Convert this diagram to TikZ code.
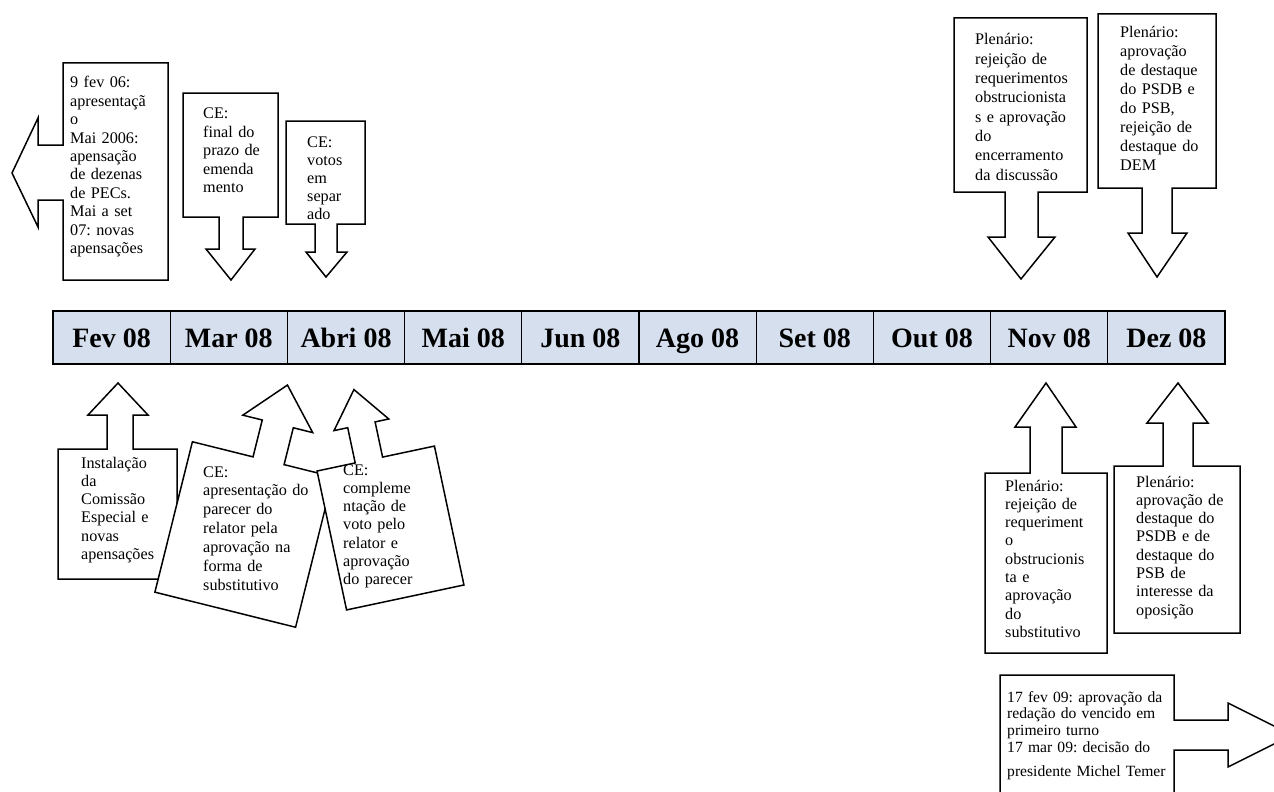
\documentclass[tikz,border=0pt]{standalone}
\usepackage{fontspec}
\setmainfont{Liberation Serif}
\frenchspacing
\definecolor{barfill}{RGB}{213,223,238}
\begin{document}
\begin{tikzpicture}[x=1pt,y=-1pt,
  callout/.style={draw=black, fill=white, line width=1.5pt, line join=miter},
  lbl/.style={anchor=base west, inner sep=0pt, text width=220pt, align=left,
              font=\fontsize{16.2}{#1}\selectfont\frenchspacing},
  cell/.style={draw=black, line width=1.2pt, fill=barfill, minimum width=117.2pt,
               minimum height=53pt, inner sep=0pt, text height=19.5pt, text depth=0pt,
               font=\fontsize{28}{30}\selectfont\bfseries},
]
\useasboundingbox (0,0) rectangle (1274,792);

% ---------- timeline bar ----------
\foreach \m [count=\i from 0] in {Fev 08,Mar 08,Abri 08,Mai 08,Jun 08,Ago 08,Set 08,Out 08,Nov 08,Dez 08}
  \node[cell] (m\i) at ({53+117.2*\i+58.6},337.5) {\m};

% ---------- top callouts ----------
\draw[callout] (63,63) -- (168,63) -- (168,280) -- (63,280) -- (63,200) -- (38,200) -- (38,227)
  -- (12,173) -- (38,118) -- (38,145) -- (63,145) -- cycle;
\node[lbl=18.4] (tl) at (70,88) {9 fev 06:\\apresentaçã\\o\\Mai 2006:\\apensação\\de dezenas\\de PECs.\\Mai a set\\07: novas\\apensações};

\draw[callout] (183,93) -- (278,93) -- (278,217) -- (243,217) -- (243,249) -- (255,249) -- (231,280)
  -- (206,249) -- (219,249) -- (219,217) -- (183,217) -- cycle;
\node[lbl=18.6] (ce1) at (203,118.5) {CE:\\final do\\prazo de\\emenda\\mento};

\draw[callout] (286,121) -- (365,121) -- (365,224) -- (337,224) -- (337,252) -- (347,252) -- (326,277)
  -- (306,252) -- (315,252) -- (315,224) -- (286,224) -- cycle;
\node[lbl=18.0] (ce2) at (307,147) {CE:\\votos\\em\\separ\\ado};

\draw[callout] (954,18) -- (1087,18) -- (1087,192) -- (1038,192) -- (1038,237) -- (1055,237) -- (1021,279)
  -- (988,237) -- (1005,237) -- (1005,192) -- (954,192) -- cycle;
\node[lbl=19.3] (pa) at (975,45) {Plenário:\\rejeição de\\requerimentos\\obstrucionista\\s e aprovação\\do\\encerramento\\da discussão};

\draw[callout] (1098,14) -- (1216,14) -- (1216,188) -- (1172,188) -- (1172,233) -- (1187,233) -- (1157,277)
  -- (1128,233) -- (1142,233) -- (1142,188) -- (1098,188) -- cycle;
\node[lbl=18.9] (pb) at (1120,38) {Plenário:\\aprovação\\de destaque\\do PSDB e\\do PSB,\\rejeição de\\destaque do\\DEM};

% ---------- bottom callouts ----------
\draw[callout] (58,449) -- (107,449) -- (107,415) -- (88,415) -- (118,383) -- (148,415) -- (133,415)
  -- (133,449) -- (177,449) -- (177,579) -- (58,579) -- cycle;
\node[lbl=18.3] (inst) at (81,468) {Instalação\\da\\Comissão\\Especial e\\novas\\apensações};

\begin{scope}[shift={(244,534.5)}, rotate=-14]
\draw[callout] (-72.5,-77.5) -- (-10,-77.5) -- (-10,-115.5) -- (-30,-115.5) -- (6,-155.5) -- (42,-115.5)
  -- (22,-115.5) -- (22,-77.5) -- (72.5,-77.5) -- (72.5,77.5) -- (-72.5,77.5) -- cycle;
\end{scope}
\node[lbl=18.9] (s2) at (203,477) {CE:\\apresentação do\\parecer do\\relator pela\\aprovação na\\forma de\\substitutivo};

\begin{scope}[shift={(390.5,528)}, rotate=12]
\draw[callout] (-60,-71) -- (-21,-71) -- (-21,-107) -- (-35,-107) -- (-7,-143) -- (21,-107)
  -- (7,-107) -- (7,-71) -- (60,-71) -- (60,71) -- (-60,71) -- cycle;
\end{scope}
\node[lbl=18.3] (s3) at (343,475) {CE:\\compleme\\ntação de\\voto pelo\\relator e\\aprovação\\do parecer};

\draw[callout] (985,473) -- (1030,473) -- (1030,427) -- (1015,427) -- (1046,383) -- (1076,427) -- (1062,427)
  -- (1062,473) -- (1107,473) -- (1107,653) -- (985,653) -- cycle;
\node[lbl=18.3] (ba) at (1005,491) {Plenário:\\rejeição de\\requeriment\\o\\obstrucionis\\ta e\\aprovação\\do\\substitutivo};

\draw[callout] (1114,466) -- (1163,466) -- (1163,423) -- (1147,423) -- (1178,383) -- (1208,423) -- (1193,423)
  -- (1193,466) -- (1240,466) -- (1240,633) -- (1114,633) -- cycle;
\node[lbl=18.3] (bb) at (1136,487) {Plenário:\\aprovação de\\destaque do\\PSDB e de\\destaque do\\PSB de\\interesse da\\oposição};

% ---------- bottom-right callout ----------
\draw[callout] (1000,810) -- (1000,675) -- (1174,675) -- (1174,720) -- (1228,720) -- (1228,703)
  -- (1292,735) -- (1228,767) -- (1228,750) -- (1174,750) -- (1174,810) -- cycle;
\node[lbl=16.8, font=\fontsize{15.6}{16.8}\selectfont\frenchspacing] (br) at (1007,702) {17 fev 09: aprovação da\\redação do vencido em\\primeiro turno\\17 mar 09: decisão do\\[7pt]presidente Michel Temer};
\end{tikzpicture}
\end{document}
